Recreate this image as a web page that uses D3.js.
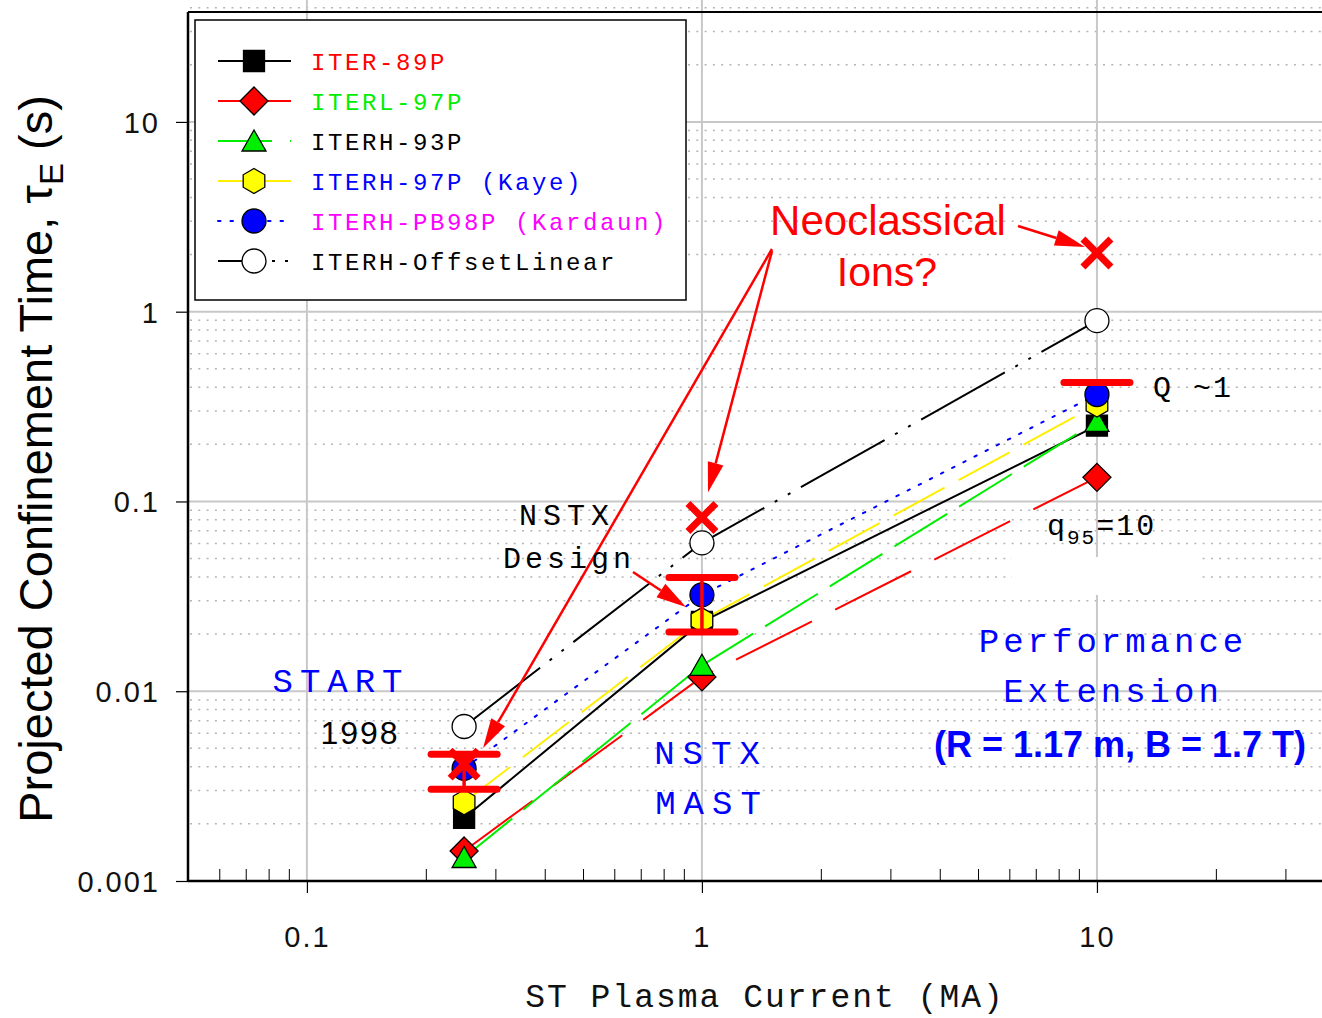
<!DOCTYPE html>
<html>
<head>
<meta charset="utf-8">
<script src="https://cdn.jsdelivr.net/npm/d3@7"></script>
<style>
  body { margin: 0; background: #fff; }
  svg { display: block; }
  .mono { font-family: "Liberation Mono", "DejaVu Sans Mono", monospace; }
  .sans { font-family: "Liberation Sans", Arial, sans-serif; }
  .narrow { font-family: "Liberation Sans Narrow", "Liberation Sans", sans-serif; }
</style>
</head>
<body>
<div id="chart"></div>
<script>
// Plasma current (MA) at which each scaling was evaluated
const currents = [0.25, 1, 10];

// Projected confinement time (s) for each scaling law
const iter89p = [0.00215, 0.0232, 0.251];
const iterL97p = [0.00144, 0.0119, 0.134];
const iterH93p = [0.00133, 0.0137, 0.264];
const iterH97p = [0.0026, 0.0237, 0.324];
const iterPB98p = [0.00392, 0.0322, 0.366];
const iterOffsetLinear = [0.00652, 0.0605, 0.897];

// Neoclassical ion estimate (red crosses) and target band (red bars)
const neoclassical = [0.00413, 0.0824, 2.04];
const targetLow = [0.00304, 0.0205, 0.423];
const targetHigh = [0.00466, 0.0398, 0.423];

// Axis ticks
const xMajorTicks = [0.1, 1, 10];
const xTickLabels = ["0.1", "1", "10"];
const yMajorTicks = [0.001, 0.01, 0.1, 1, 10];
const yTickLabels = ["0.001", "0.01", "0.1", "1", "10"];

const W = 1322, H = 1018;

const svg = d3.select("#chart")
  .append("svg")
    .attr("width", W)
    .attr("height", H);

// Log scales for both axes
const x = d3.scaleLog().domain([0.05, 37.13]).range([188, 1322]);
const y = d3.scaleLog().domain([0.001, 43.9]).range([881, 0]);
const plotTop = 12;

// Minor values for the dotted rows and the small x ticks
const yMinor = [];
for (let e = -3; e <= 1; e++) {
  for (let k = 2; k <= 9; k++) {
    const v = k * Math.pow(10, e);
    if (v < 43.9) yMinor.push(v);
  }
}
const xMinor = [];
for (let e = -2; e <= 1; e++) {
  for (let k = 2; k <= 9; k++) {
    const v = k * Math.pow(10, e);
    if (v > 0.05 && v < 37.13) xMinor.push(v);
  }
}

// Dotted minor gridlines
svg.append("g")
  .selectAll("line")
  .data(yMinor)
  .join("line")
    .attr("x1", x.range()[0] + 2).attr("x2", W)
    .attr("y1", d => y(d)).attr("y2", d => y(d))
    .attr("stroke", "#b4b4b4")
    .attr("stroke-width", 1.5)
    .attr("stroke-dasharray", "2,6.3");

// Major gridlines
svg.append("g")
  .selectAll("line")
  .data(yMajorTicks.slice(1))
  .join("line")
    .attr("x1", x.range()[0]).attr("x2", W)
    .attr("y1", d => y(d)).attr("y2", d => y(d))
    .attr("stroke", "#c8c8c8")
    .attr("stroke-width", 2);
svg.append("g")
  .selectAll("line")
  .data(xMajorTicks)
  .join("line")
    .attr("x1", d => x(d)).attr("x2", d => x(d))
    .attr("y1", 0).attr("y2", y(0.001))
    .attr("stroke", "#c8c8c8")
    .attr("stroke-width", 2);

// White text box that hides the grid under the annotation block
svg.append("rect")
  .attr("x", 1012).attr("y", 557)
  .attr("width", 185).attr("height", 38)
  .attr("fill", "#fff");

// Frame: top line, left and bottom axes
svg.append("line")
  .attr("x1", x.range()[0]).attr("x2", W)
  .attr("y1", plotTop).attr("y2", plotTop)
  .attr("stroke", "#000").attr("stroke-width", 2);

// X axis: major ticks down with labels, minor ticks up
const xAxis = svg.append("g")
  .attr("transform", `translate(0, ${y(0.001)})`)
  .call(d3.axisBottom(x)
    .tickValues(xMajorTicks)
    .tickSize(12)
    .tickPadding(33)
    .tickFormat((d, i) => xTickLabels[i]));
svg.append("g")
  .attr("transform", `translate(0, ${y(0.001)})`)
  .call(d3.axisBottom(x)
    .tickValues(xMinor)
    .tickSize(-12)
    .tickFormat(""))
  .call(g => g.select(".domain").remove());

const yAxis = svg.append("g")
  .attr("transform", `translate(${x.range()[0]}, 0)`)
  .call(d3.axisLeft(y)
    .tickValues(yMajorTicks)
    .tickSize(12)
    .tickPadding(16)
    .tickFormat((d, i) => yTickLabels[i]));

[xAxis, yAxis].forEach(g => {
  g.select(".domain").attr("stroke-width", 2.5);
  g.selectAll(".tick line").attr("stroke-width", 1.2);
  g.selectAll("text")
    .attr("class", "narrow")
    .style("font-size", "29px")
    .style("letter-spacing", "2px")
    .attr("fill", "#111");
});
yAxis.select(".domain").attr("d", `M0,${plotTop}V${y(0.001)}`);
xAxis.select(".domain").attr("d", `M${x.range()[0]},0H${W}`);
yAxis.selectAll(".tick text").attr("dy", "0.36em");

// Series definitions
const series = [
  {name: "ITER-89P", values: iter89p, stroke: "#000", fill: "#000", shape: "square", dash: null, label: "#ff0000"},
  {name: "ITERL-97P", values: iterL97p, stroke: "#ff0000", fill: "#ff0000", shape: "diamond", dash: "85,26", label: "#00ee00"},
  {name: "ITERH-93P", values: iterH93p, stroke: "#00ee00", fill: "#00ee00", shape: "triangle", dash: "62,14", label: "#000"},
  {name: "ITERH-97P (Kaye)", values: iterH97p, stroke: "#ffee00", fill: "#ffff00", shape: "hexagon", dash: "58,16", label: "#0000ff"},
  {name: "ITERH-PB98P (Kardaun)", values: iterPB98p, stroke: "#0000ff", fill: "#0000ff", shape: "circle", dash: "2.5,10", label: "#ff00ff"},
  {name: "ITERH-OffsetLinear", values: iterOffsetLinear, stroke: "#000", fill: "#fff", shape: "circle", dash: "96,12,3,12,3,12", label: "#000"}
];

function markerPath(shape) {
  if (shape === "square") return "M-10.5,-10.5h21v21h-21Z";
  if (shape === "diamond") return "M0,-14L14,0L0,14L-14,0Z";
  if (shape === "triangle") return "M0,-11L12,10L-12,10Z";
  if (shape === "hexagon") return "M0,-12.5L10.8,-6.25L10.8,6.25L0,12.5L-10.8,6.25L-10.8,-6.25Z";
  return "M12,0A12,12 0 1,1 -12,0A12,12 0 1,1 12,0Z";
}

// Lines
const line = d3.line()
  .x(d => x(d.current))
  .y(d => y(d.tau));

svg.append("g")
  .selectAll("path")
  .data(series)
  .join("path")
    .attr("d", s => line(s.values.map((v, i) => ({current: currents[i], tau: v}))))
    .attr("fill", "none")
    .attr("stroke", s => s.stroke)
    .attr("stroke-width", 2)
    .attr("stroke-linecap", s => s.shape === "circle" && s.fill !== "#fff" ? "round" : "butt")
    .attr("stroke-dasharray", s => s.dash);

// Markers
svg.append("g")
  .selectAll("g")
  .data(series)
  .join("g")
  .selectAll("path")
  .data(s => s.values.map((v, i) => ({s: s, current: currents[i], tau: v})))
  .join("path")
    .attr("d", d => markerPath(d.s.shape))
    .attr("transform", d => `translate(${x(d.current)},${y(d.tau)})`)
    .attr("fill", d => d.s.fill)
    .attr("stroke", "#000")
    .attr("stroke-width", 1.3);

// Target band bars
const band = currents.map((c, i) => ({current: c, lo: targetLow[i], hi: targetHigh[i]}));
const bandG = svg.append("g").attr("stroke", "#ff0000").attr("stroke-linecap", "round");
bandG.selectAll(".stem")
  .data(band.filter(d => d.lo !== d.hi))
  .join("line")
    .attr("x1", d => x(d.current)).attr("x2", d => x(d.current))
    .attr("y1", d => y(d.lo)).attr("y2", d => y(d.hi))
    .attr("stroke-width", 3.5);
bandG.selectAll(".cap")
  .data(band.flatMap(d => d.lo === d.hi ? [{c: d.current, v: d.lo}] : [{c: d.current, v: d.lo}, {c: d.current, v: d.hi}]))
  .join("line")
    .attr("x1", d => x(d.c) - 33).attr("x2", d => x(d.c) + 33)
    .attr("y1", d => y(d.v)).attr("y2", d => y(d.v))
    .attr("stroke-width", 7);

// Neoclassical crosses
svg.append("g")
  .selectAll("path")
  .data(currents.map((c, i) => ({current: c, tau: neoclassical[i]})))
  .join("path")
    .attr("d", "M-14,-14L14,14M14,-14L-14,14")
    .attr("transform", d => `translate(${x(d.current)},${y(d.tau)})`)
    .attr("stroke", "#ff0000")
    .attr("stroke-width", 7)
    .attr("fill", "none");

// Arrows
function arrow(x1, y1, x2, y2) {
  const len = Math.hypot(x2 - x1, y2 - y1);
  const ux = (x2 - x1) / len, uy = (y2 - y1) / len;
  const hl = 30, hw = 8;
  const bx = x2 - ux * hl, by = y2 - uy * hl;
  svg.append("line")
    .attr("x1", x1).attr("y1", y1).attr("x2", bx).attr("y2", by)
    .attr("stroke", "#ff0000").attr("stroke-width", 2.5);
  svg.append("path")
    .attr("d", `M${x2},${y2}L${bx - uy * hw},${by + ux * hw}L${bx + uy * hw},${by - ux * hw}Z`)
    .attr("fill", "#ff0000");
}
arrow(772, 249, x(currents[0]) + 19, y(neoclassical[0]) - 16);
arrow(772, 251, x(currents[1]) + 6, y(neoclassical[1]) - 25);
arrow(1018, 226, x(currents[2]) - 12, y(neoclassical[2]) - 6);
arrow(633, 572, x(currents[1]) - 16, y(iterH97p[1]) - 13);

// Annotation text
function label(txt, tx, ty, cls, size, color, opts = {}) {
  const t = svg.append("text")
    .attr("class", cls)
    .attr("x", tx).attr("y", ty)
    .attr("text-anchor", opts.anchor || "middle")
    .attr("fill", color)
    .style("font-size", size + "px")
    .style("letter-spacing", (opts.spacing || 0) + "px")
    .style("font-weight", opts.bold ? "bold" : "normal")
    .text(txt);
  return t;
}
label("Neoclassical", 888, 235, "sans", 42, "#ff0000");
label("Ions?", 887, 286, "sans", 41, "#ff0000");
label("NSTX", 567, 525, "mono", 30, "#000", {spacing: 6});
label("Design", 569, 568, "mono", 30, "#000", {spacing: 4});
label("START", 341, 692, "mono", 34, "#0000ff", {spacing: 7});
label("1998", 360, 744, "sans", 32, "#000", {spacing: 2});
label("NSTX", 711, 764, "mono", 34, "#0000ff", {spacing: 8});
label("MAST", 712, 814, "mono", 34, "#0000ff", {spacing: 8});
label("Performance", 1113, 652, "mono", 34, "#0000ff", {spacing: 4});
label("Extension", 1113, 702, "mono", 34, "#0000ff", {spacing: 4});
label("(R = 1.17 m, B = 1.7 T)", 1120, 757, "sans", 36, "#0000ff", {bold: true});
label("Q ~1", 1193, 397, "mono", 30, "#000", {spacing: 2});
const q = label("q", 1047, 535, "mono", 30, "#000", {anchor: "start", spacing: 2});
q.append("tspan").attr("dy", 9).style("font-size", "21px").text("95");
q.append("tspan").attr("dy", -9).text("=10");

// Axis titles
label("ST Plasma Current (MA)", 765, 1007, "mono", 33, "#111", {spacing: 2});
svg.append("text")
  .attr("class", "sans")
  .attr("transform", "translate(52, 459) rotate(-90)")
  .attr("text-anchor", "middle")
  .style("font-size", "47px")
  .attr("fill", "#000")
  .text("Projected Confinement Time, τ")
  .append("tspan").attr("dy", 11).style("font-size", "33px").text("E")
  .select(function() { return this.parentNode; })
  .append("tspan").attr("dy", -11).text(" (s)");

// Legend
const legend = svg.append("g").attr("transform", "translate(195, 20)");
legend.append("rect")
  .attr("width", 491).attr("height", 280)
  .attr("fill", "#fff")
  .attr("stroke", "#000")
  .attr("stroke-width", 1.5);
const entries = legend.selectAll("g.entry")
  .data(series)
  .join("g")
    .attr("transform", (d, i) => `translate(0, ${41 + i * 40})`);
entries.append("line")
  .attr("x1", 23).attr("x2", 96)
  .attr("stroke", d => d.stroke)
  .attr("stroke-width", 2)
  .attr("stroke-dasharray", d => d.dash === null ? null : (d.shape === "circle" && d.fill === "#fff" ? "36,18,3,10,3,10" : (d.shape === "circle" ? "2.5,10" : (d.shape === "triangle" ? "54,18,4,10" : null))))
  .attr("stroke-linecap", d => d.shape === "circle" && d.fill !== "#fff" ? "round" : "butt");
entries.append("path")
  .attr("d", d => markerPath(d.shape))
  .attr("transform", "translate(59, 0)")
  .attr("fill", d => d.fill)
  .attr("stroke", "#000")
  .attr("stroke-width", 1.3);
entries.append("text")
  .attr("class", "mono")
  .attr("x", 116).attr("y", 9)
  .attr("fill", d => d.label)
  .style("font-size", "24px")
  .style("letter-spacing", "2.6px")
  .text(d => d.name);
</script>
</body>
</html>
